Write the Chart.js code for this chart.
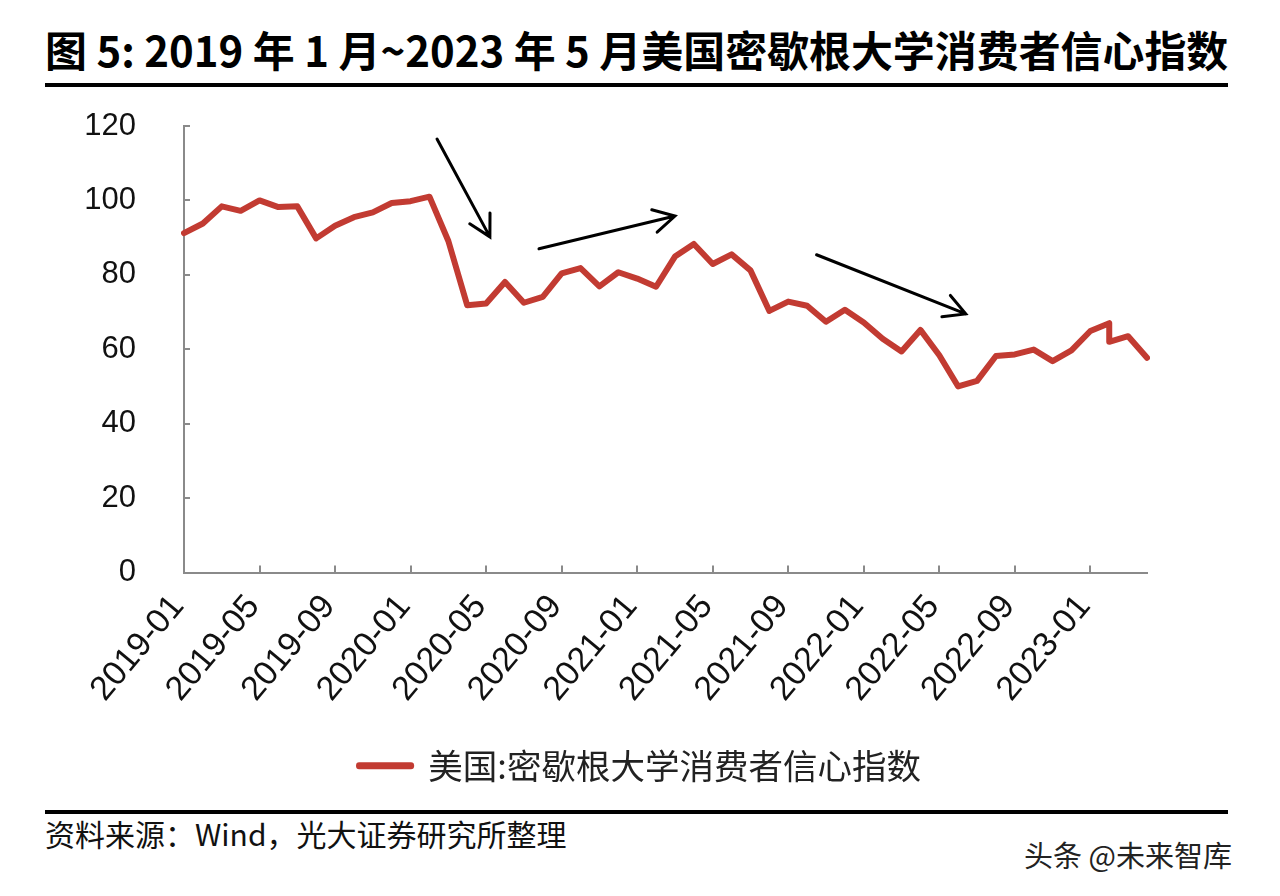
<!DOCTYPE html>
<html>
<head>
<meta charset="utf-8">
<script src="https://cdn.jsdelivr.net/npm/chart.js@4.4.0/dist/chart.umd.min.js"></script>
<style>
  body { margin: 0; background: #fff; width: 1280px; height: 896px; overflow: hidden; position: relative; font-family: "Noto Sans CJK SC", sans-serif; }
  #title { position: absolute; left: 45px; top: 28px; font-size: 42px; line-height: 1; font-weight: 700; white-space: nowrap; transform-origin: left top; color: #000; }
  .rule { position: absolute; left: 45px; width: 1183px; height: 4px; background: #000; }
  #box { position: absolute; left: 0; top: 0; width: 1280px; height: 800px; }
  #source { position: absolute; left: 45px; top: 818px; font-size: 30px; line-height: 1; color: #111; white-space: nowrap; }
  #mark { position: absolute; right: 48px; top: 840px; font-size: 29px; line-height: 1; color: #222; white-space: nowrap; }
</style>
</head>
<body>
<div id="title">图 5: 2019 年 1 月~2023 年 5 月美国密歇根大学消费者信心指数</div>
<div class="rule" style="top:83px"></div>
<div id="box"><canvas id="myChart" width="1280" height="800"></canvas></div>
<div class="rule" style="top:810px"></div>
<div id="source">资料来源：Wind，光大证券研究所整理</div>
<div id="mark">头条 @未来智库</div>

<script>
// axis months (the source plots 2019-01 .. 2023-04 slots)
const months = [
  "2019-01", "2019-02", "2019-03", "2019-04", "2019-05", "2019-06", "2019-07", "2019-08", "2019-09", "2019-10", "2019-11", "2019-12",
  "2020-01", "2020-02", "2020-03", "2020-04", "2020-05", "2020-06", "2020-07", "2020-08", "2020-09", "2020-10", "2020-11", "2020-12",
  "2021-01", "2021-02", "2021-03", "2021-04", "2021-05", "2021-06", "2021-07", "2021-08", "2021-09", "2021-10", "2021-11", "2021-12",
  "2022-01", "2022-02", "2022-03", "2022-04", "2022-05", "2022-06", "2022-07", "2022-08", "2022-09", "2022-10", "2022-11", "2022-12",
  "2023-01", "2023-02", "2023-03", "2023-04"
];

// 美国:密歇根大学消费者信心指数, 2019-01 .. 2023-05
const values = [
  91.2, 93.8, 98.4, 97.2, 100.0, 98.2, 98.4, 89.8, 93.2, 95.5, 96.8, 99.3,
  99.8, 101.0, 89.1, 71.8, 72.3, 78.1, 72.5, 74.1, 80.4, 81.8, 76.9, 80.7,
  79.0, 76.8, 84.9, 88.3, 82.9, 85.5, 81.2, 70.3, 72.8, 71.7, 67.4, 70.6,
  67.2, 62.8, 59.4, 65.2, 58.4, 50.0, 51.5, 58.2, 58.6, 59.9, 56.8, 59.7,
  64.9, 67.0, 62.0, 63.5, 57.7
];

// the last three readings sit one slot early in the source chart
const lateDates = ["2023-02", "2023-03", "2023-04"];
const pointDates = months.slice(0, 50).concat(lateDates);

const yTicks = [0, 20, 40, 60, 80, 100, 120];
const seriesName = "美国:密歇根大学消费者信心指数";

// hand drawn arrows, [month index, value]
const arrows = [
  { from: [13.4, 116.5], to: [16.2, 90.2] },
  { from: [18.8, 87.0], to: [26.0, 95.8] },
  { from: [33.5, 85.4], to: [41.4, 69.5] }
];

const red = "#C23B32";
const axisGrey = "#8a8a8a";

// fit title width
const t = document.getElementById("title");
t.style.transform = "scaleX(" + (1183 / t.offsetWidth) + ")";

const tickMarks = {
  id: "tickMarks",
  afterDraw(chart) {
    const { ctx } = chart;
    const x = chart.scales.x, y = chart.scales.y;
    ctx.save();
    ctx.strokeStyle = axisGrey;
    ctx.lineWidth = 2;
    ctx.beginPath();
    months.forEach(function (m, i) {
      if (i % 4 === 0 && i > 0) {
        const px = Math.round(x.getPixelForValue(i));
        ctx.moveTo(px, y.bottom);
        ctx.lineTo(px, y.bottom - 7);
      }
    });
    yTicks.forEach(function (v) {
      const py = Math.round(y.getPixelForValue(v));
      ctx.moveTo(x.left, py);
      ctx.lineTo(x.left + 6, py);
    });
    ctx.stroke();
    ctx.restore();
  }
};

const arrowPlugin = {
  id: "arrowPlugin",
  afterDatasetsDraw(chart) {
    const { ctx } = chart;
    const x = chart.scales.x, y = chart.scales.y;
    ctx.save();
    ctx.strokeStyle = "#000";
    ctx.lineWidth = 3;
    ctx.lineCap = "round";
    arrows.forEach(function (a) {
      const x1 = x.getPixelForValue(a.from[0]), y1 = y.getPixelForValue(a.from[1]);
      const x2 = x.getPixelForValue(a.to[0]), y2 = y.getPixelForValue(a.to[1]);
      const ang = Math.atan2(y2 - y1, x2 - x1);
      const len = 24, spread = 0.5;
      ctx.beginPath();
      ctx.moveTo(x1, y1);
      ctx.lineTo(x2, y2);
      ctx.moveTo(x2 - len * Math.cos(ang - spread), y2 - len * Math.sin(ang - spread));
      ctx.lineTo(x2, y2);
      ctx.lineTo(x2 - len * Math.cos(ang + spread), y2 - len * Math.sin(ang + spread));
      ctx.stroke();
    });
    ctx.restore();
  }
};

const ctx = document.getElementById("myChart").getContext("2d");
const myChart = new Chart(ctx, {
  type: "line",
  data: {
    labels: months,
    datasets: [
      {
        label: seriesName,
        data: values.map(function (v, i) { return { x: pointDates[i], y: v }; }),
        borderColor: red,
        backgroundColor: red,
        borderWidth: 6,
        borderCapStyle: "round",
        borderJoinStyle: "round",
        pointRadius: 0,
        tension: 0
      }
    ]
  },
  options: {
    responsive: false,
    animation: false,
    devicePixelRatio: 1,
    layout: { padding: { left: 0, right: 0, top: 126, bottom: 7 } },
    scales: {
      x: {
        type: "category",
        offset: false,
        grid: { display: false },
        border: { display: true, color: axisGrey, width: 2 },
        afterFit: function (s) { s.height = 166; },
        ticks: {
          autoSkip: false,
          minRotation: 50,
          maxRotation: 50,
          padding: 7,
          labelOffset: -6,
          color: "#111",
          font: { family: "Liberation Sans", size: 34 },
          callback: function (v, i) {
            return i % 4 === 0 ? this.getLabelForValue(v) : "";
          }
        }
      },
      y: {
        min: 0,
        max: 120,
        grid: { display: false },
        border: { display: true, color: axisGrey, width: 2 },
        afterFit: function (s) { s.width = 184; },
        ticks: {
          stepSize: 20,
          padding: 40,
          color: "#111",
          font: { family: "Liberation Sans", size: 31 }
        }
      },
      // empty right-hand space so the legend stays centred on the page
      yRight: {
        position: "right",
        grid: { display: false },
        border: { display: false },
        ticks: { display: false },
        afterFit: function (s) { s.width = 133; }
      }
    },
    plugins: {
      legend: {
        position: "bottom",
        labels: {
          boxWidth: 52,
          boxHeight: 1,
          padding: 10,
          color: "#222",
          font: { family: "Noto Sans CJK SC", size: 34.5 }
        }
      },
      tooltip: { enabled: false }
    }
  },
  plugins: [tickMarks, arrowPlugin]
});
</script>
</body>
</html>
